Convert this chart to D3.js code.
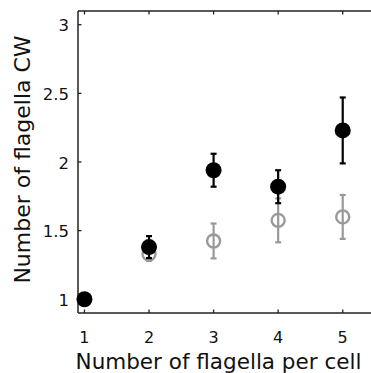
<!DOCTYPE html>
<html>
<head>
<meta charset="utf-8">
<script src="https://cdn.jsdelivr.net/npm/d3@7"></script>
<style>
  html, body { margin: 0; padding: 0; background: #fff; }
  svg { display: block; }
  text { font-family: "DejaVu Sans", Verdana, sans-serif; }
</style>
</head>
<body>
<svg id="chart" width="371" height="373"></svg>
<script>
// Flagella per cell and mean number turning clockwise (± error)
const flagellaPerCell = [1, 2, 3, 4, 5];
const cwFilled = [1.0, 1.38, 1.94, 1.82, 2.23];
const cwFilledErr = [0, 0.08, 0.12, 0.12, 0.24];
const cwOpenX = [2, 3, 4, 5];
const cwOpen = [1.33, 1.425, 1.575, 1.60];
const cwOpenErr = [0.05, 0.127, 0.16, 0.16];
const xTicks = [1, 2, 3, 4, 5];
const yTicks = [1, 1.5, 2, 2.5, 3];

const svg = d3.select("#chart");
const x = d3.scaleLinear().domain([0.9, 5.5]).range([78, 375]);
const y = d3.scaleLinear().domain([0.9, 3.1]).range([313, 11]);

// Frame
const frame = svg.append("g");
frame.append("line").attr("x1", x(0.9)).attr("x2", 371).attr("y1", y(0.9)).attr("y2", y(0.9))
  .attr("stroke", "#222").attr("stroke-width", 1.5);
frame.append("line").attr("x1", x(0.9)).attr("x2", 371).attr("y1", y(3.1)).attr("y2", y(3.1))
  .attr("stroke", "#222").attr("stroke-width", 1.5);
frame.append("line").attr("x1", x(0.9)).attr("x2", x(0.9)).attr("y1", y(3.1)).attr("y2", y(0.9))
  .attr("stroke", "#222").attr("stroke-width", 1.5);

// Ticks pointing inward
const tickLen = 3.5;
xTicks.forEach(t => {
  frame.append("line").attr("x1", x(t)).attr("x2", x(t)).attr("y1", y(0.9)).attr("y2", y(0.9) - tickLen)
    .attr("stroke", "#222").attr("stroke-width", 1.3);
  frame.append("line").attr("x1", x(t)).attr("x2", x(t)).attr("y1", y(3.1)).attr("y2", y(3.1) + tickLen)
    .attr("stroke", "#222").attr("stroke-width", 1.3);
});
yTicks.forEach(t => {
  frame.append("line").attr("x1", x(0.9)).attr("x2", x(0.9) + tickLen).attr("y1", y(t)).attr("y2", y(t))
    .attr("stroke", "#222").attr("stroke-width", 1.3);
});

// Tick labels
svg.append("g").selectAll("text").data(xTicks).join("text")
  .attr("x", d => x(d)).attr("y", 343)
  .attr("text-anchor", "middle").attr("font-size", 16).attr("fill", "#111")
  .text(d => d);
svg.append("g").selectAll("text").data(yTicks).join("text")
  .attr("x", 69).attr("y", d => y(d) + 6.5)
  .attr("text-anchor", "end").attr("font-size", 16.5).attr("fill", "#111")
  .text(d => d3.format("~g")(d));

// Axis titles
svg.append("text").attr("x", 218.5).attr("y", 369)
  .attr("text-anchor", "middle").attr("font-size", 21.5).attr("fill", "#111")
  .text("Number of flagella per cell");
svg.append("text")
  .attr("transform", "translate(29.5, 159.5) rotate(-90)")
  .attr("text-anchor", "middle").attr("font-size", 22).attr("fill", "#111")
  .text("Number of flagella CW");

// Open (grey) series
const openData = cwOpenX.map((v, i) => ({ x: v, y: cwOpen[i], e: cwOpenErr[i] }));
const grey = "#999";
const gOpen = svg.append("g");
openData.forEach(d => {
  gOpen.append("line").attr("x1", x(d.x)).attr("x2", x(d.x)).attr("y1", y(d.y - d.e)).attr("y2", y(d.y + d.e))
    .attr("stroke", grey).attr("stroke-width", 2.2);
  [d.y - d.e, d.y + d.e].forEach(v => gOpen.append("line")
    .attr("x1", x(d.x) - 3).attr("x2", x(d.x) + 3).attr("y1", y(v)).attr("y2", y(v))
    .attr("stroke", grey).attr("stroke-width", 2.2));
  gOpen.append("circle").attr("cx", x(d.x)).attr("cy", y(d.y)).attr("r", 6.5)
    .attr("fill", "none").attr("stroke", grey).attr("stroke-width", 2.4);
});

// Filled (black) series
const filledData = flagellaPerCell.map((v, i) => ({ x: v, y: cwFilled[i], e: cwFilledErr[i] }));
const gFilled = svg.append("g");
filledData.forEach(d => {
  if (d.e > 0) {
    gFilled.append("line").attr("x1", x(d.x)).attr("x2", x(d.x)).attr("y1", y(d.y - d.e)).attr("y2", y(d.y + d.e))
      .attr("stroke", "#000").attr("stroke-width", 2.2);
    [d.y - d.e, d.y + d.e].forEach(v => gFilled.append("line")
      .attr("x1", x(d.x) - 3).attr("x2", x(d.x) + 3).attr("y1", y(v)).attr("y2", y(v))
      .attr("stroke", "#000").attr("stroke-width", 2.2));
  }
  gFilled.append("circle").attr("cx", x(d.x)).attr("cy", y(d.y)).attr("r", 8)
    .attr("fill", "#000");
});
</script>
</body>
</html>
